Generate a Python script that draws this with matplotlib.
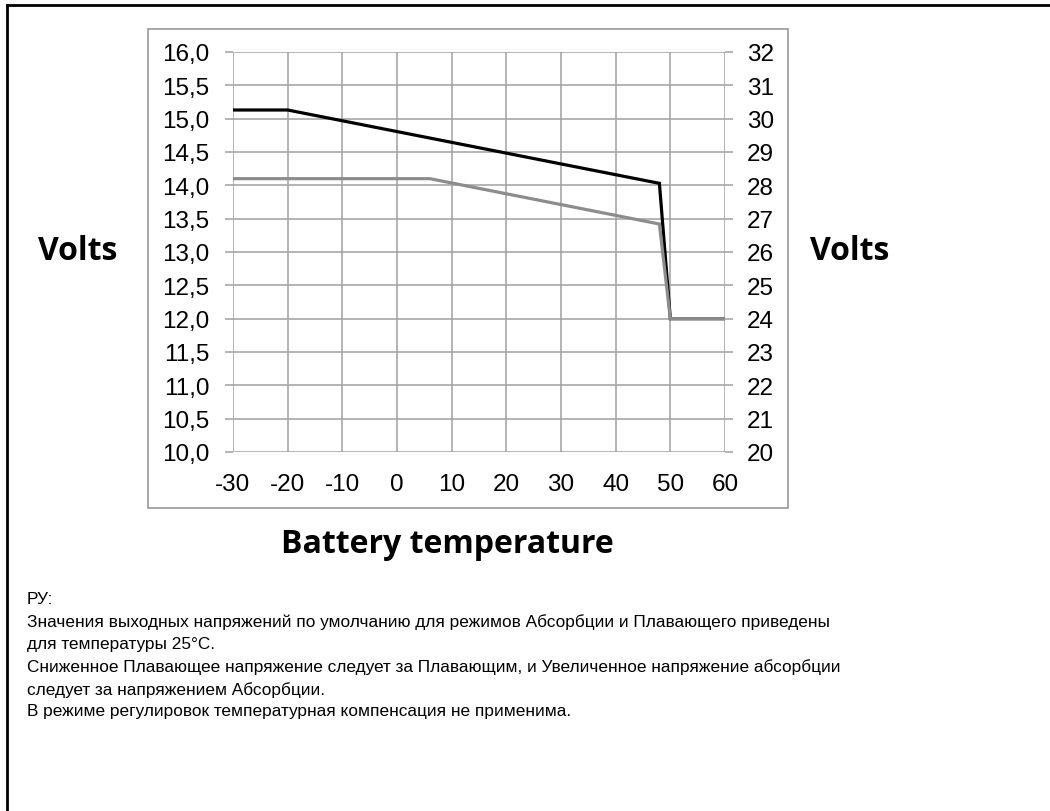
import matplotlib
matplotlib.use("Agg")
import matplotlib.pyplot as plt
from matplotlib.patches import Rectangle
from matplotlib.lines import Line2D
from matplotlib.ticker import FuncFormatter

# data
temp_abs = [-30, -20, 48, 50, 60]
volt_abs = [15.13, 15.13, 14.03, 12.0, 12.0]
temp_float = [-30, 6, 48, 50, 60]
volt_float = [14.1, 14.1, 13.42, 12.0, 12.0]

x_ticks = [-30, -20, -10, 0, 10, 20, 30, 40, 50, 60]
y_left_ticks = [10.0, 10.5, 11.0, 11.5, 12.0, 12.5, 13.0, 13.5, 14.0, 14.5, 15.0, 15.5, 16.0]
y_right_ticks = [20, 21, 22, 23, 24, 25, 26, 27, 28, 29, 30, 31, 32]

notes = [
    "РУ:",
    "Значения выходных напряжений по умолчанию для режимов Абсорбции и Плавающего приведены",
    "для температуры 25°C.",
    "Сниженное Плавающее напряжение следует за Плавающим, и Увеличенное напряжение абсорбции",
    "следует за напряжением Абсорбции.",
    "В режиме регулировок температурная компенсация не применима.",
]

plt.rcParams["axes.unicode_minus"] = False

W, H = 1050, 812
grid_col = "#a0a0a0"

fig = plt.figure(figsize=(10.5, 8.12), dpi=100)

def fx(px):
    return px / W

def fy(py):
    return 1 - py / H

# frame lines of the page and the grey chart box
fig.add_artist(Line2D([fx(7), 1], [fy(6), fy(6)], color="black", lw=2, transform=fig.transFigure))
fig.add_artist(Line2D([fx(7), fx(7)], [fy(6), 0], color="black", lw=2, transform=fig.transFigure))
fig.add_artist(Rectangle((fx(148), fy(509)), fx(788) - fx(148), fy(30) - fy(509),
                         fill=False, edgecolor=grid_col, lw=1.3, transform=fig.transFigure))

ax = fig.add_axes([fx(233), fy(453), fx(725) - fx(233), fy(53) - fy(453)])
ax.set_xlim(-30, 60)
ax.set_ylim(10, 16)
ax.set_xticks(x_ticks)
ax.set_yticks(y_left_ticks)
ax.grid(True, color=grid_col, lw=1.1)
ax.set_axisbelow(True)
for s in ax.spines.values():
    s.set_visible(False)

ax.plot(temp_abs, volt_abs, color="black", lw=2.3, solid_joinstyle="miter", zorder=3)
ax.plot(temp_float, volt_float, color="#8c8c8c", lw=2.3, solid_joinstyle="miter", zorder=4)

tick_font = {"family": "Liberation Sans", "size": 17.5}
ax.yaxis.set_major_formatter(FuncFormatter(lambda v, p: f"{v:.1f}".replace(".", ",")))
ax.tick_params(axis="y", length=6, width=1.1, color=grid_col, pad=11)
ax.tick_params(axis="x", length=0, pad=15)
for lab in ax.get_xticklabels() + ax.get_yticklabels():
    lab.set_fontfamily(tick_font["family"])
    lab.set_fontsize(tick_font["size"])

ax2 = ax.twinx()
ax2.set_ylim(20, 32)
ax2.set_yticks(y_right_ticks)
for s in ax2.spines.values():
    s.set_visible(False)
ax2.tick_params(axis="y", length=6, width=1.1, color=grid_col, pad=10)
for lab in ax2.get_yticklabels():
    lab.set_fontfamily(tick_font["family"])
    lab.set_fontsize(tick_font["size"])

fig.text(fx(78), fy(252), "Volts", family="Open Sans", weight="bold", size=23,
         ha="center", va="center")
fig.text(fx(850), fy(252), "Volts", family="Open Sans", weight="bold", size=23,
         ha="center", va="center")
fig.text(fx(447), fy(545), "Battery temperature", family="Open Sans", weight="bold",
         size=23, ha="center", va="center")

for i, line in enumerate(notes):
    fig.text(fx(27), fy(600 + i * 22.4), line, family="Liberation Sans", size=12.4,
             ha="left", va="center")

fig.savefig("out.png", dpi=100)
